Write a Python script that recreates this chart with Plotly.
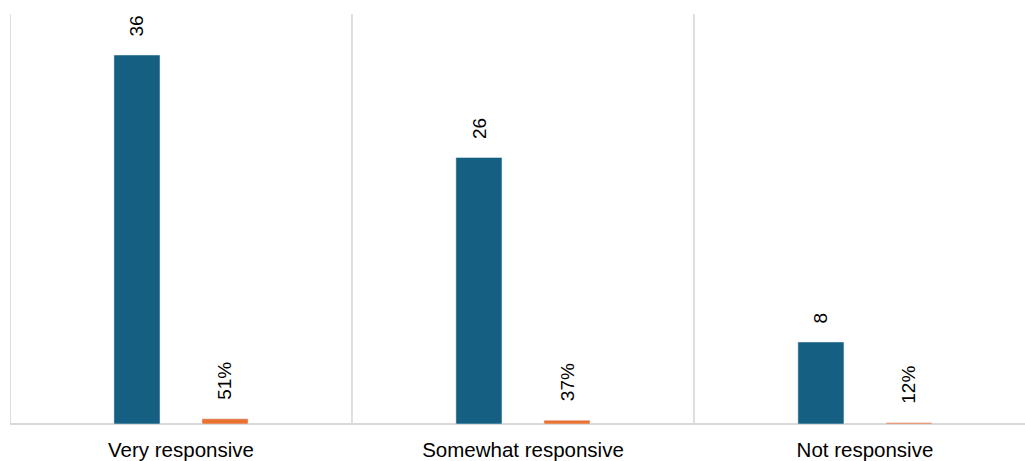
import plotly.graph_objects as go

# Survey responses: counts and their share of all respondents
categories = ["Very responsive", "Somewhat responsive", "Not responsive"]
counts = [36, 26, 8]
shares = [0.51, 0.37, 0.12]

count_labels = [str(v) for v in counts]
share_labels = [f"{round(v * 100)}%" for v in shares]

BLUE = "#156082"
ORANGE = "#E97132"
GRID = "#d9d9d9"
FONT = "Liberation Sans"

fig = go.Figure()
fig.add_trace(go.Bar(x=categories, y=counts, marker_color=BLUE, name="Count"))
fig.add_trace(go.Bar(x=categories, y=shares, marker_color=ORANGE, name="Share"))

# Rotated value labels sitting above each bar
bar_offset_px = 44
for i, cat in enumerate(categories):
    for val, txt, shift in ((counts[i], count_labels[i], -bar_offset_px),
                            (shares[i], share_labels[i], bar_offset_px)):
        fig.add_annotation(
            x=cat, y=val, text=txt, textangle=-90,
            xref="x", yref="y", showarrow=False,
            xanchor="center", yanchor="bottom",
            xshift=shift, yshift=17,
            font=dict(family=FONT, size=19, color="#000000"),
        )

# Vertical separators between categories
for k in range(len(categories) + 1):
    fig.add_shape(
        type="line", xref="x", yref="y",
        x0=k - 0.5, x1=k - 0.5, y0=0, y1=40,
        line=dict(color=GRID, width=1.7), layer="below",
    )

fig.update_layout(
    width=1025, height=461,
    margin=dict(l=10, r=0, t=14, b=37),
    paper_bgcolor="white", plot_bgcolor="white",
    barmode="group", bargap=0.485, bargroupgap=0.477,
    showlegend=False, hovermode=False,
    font=dict(family=FONT, size=19, color="#000000"),
    xaxis=dict(
        range=[-0.5, 2.468], showgrid=False, zeroline=False,
        showline=False, ticks="", tickfont=dict(size=20.5),
        ticklabelstandoff=11,
    ),
    yaxis=dict(
        range=[0, 40], showgrid=False, zeroline=True,
        zerolinecolor=GRID, zerolinewidth=2, showticklabels=False,
        showline=False, ticks="",
    ),
)

fig.write_html("out.html")
